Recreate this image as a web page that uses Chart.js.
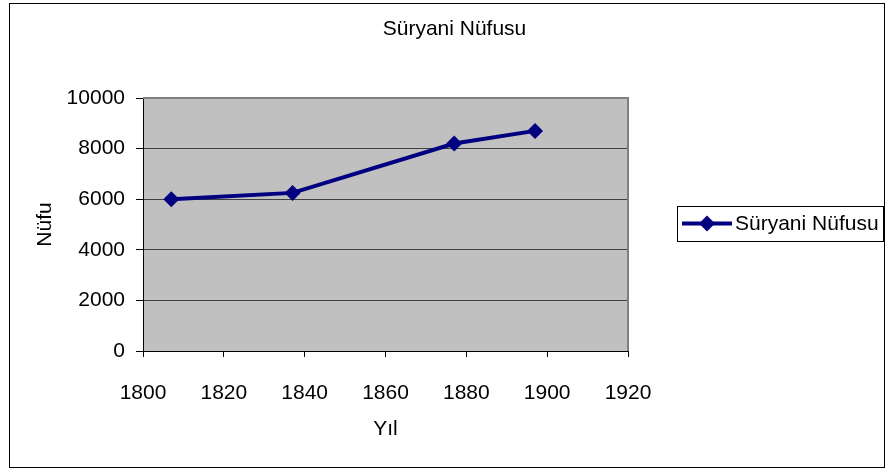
<!DOCTYPE html>
<html>
<head>
<meta charset="utf-8">
<script src="https://cdn.jsdelivr.net/npm/chart.js@4/dist/chart.umd.min.js"></script>
<style>
  html, body { margin: 0; padding: 0; background: #fff; }
  #wrap { width: 889px; height: 470px; }
</style>
</head>
<body>
<div id="wrap"><canvas id="chart" width="889" height="470"></canvas></div>
<script>
// data
const years = [1807, 1837, 1877, 1897];
const population = [6000, 6250, 8200, 8700];
const seriesName = 'Süryani Nüfusu';
const chartTitle = 'Süryani Nüfusu';
const xTitle = 'Yıl';
const yTitle = 'Nüfu';

const FONT = '"Liberation Sans", Arial, sans-serif';
const NAVY = '#000080';

// grey plot background + outer frame
const backdrop = {
    id: 'backdrop',
    beforeDraw(chart) {
        const { ctx, chartArea: a } = chart;
        ctx.save();
        ctx.fillStyle = '#fff';
        ctx.fillRect(0, 0, chart.width, chart.height);
        ctx.fillStyle = '#c0c0c0';
        ctx.fillRect(a.left, a.top, a.right - a.left, a.bottom - a.top);
        ctx.strokeStyle = '#000';
        ctx.lineWidth = 1;
        ctx.strokeRect(9.5, 3.5, 875, 464);
        ctx.restore();
    },
    beforeDatasetsDraw(chart) {
        const { ctx, chartArea: a } = chart;
        ctx.save();
        ctx.strokeStyle = '#808080';
        ctx.lineWidth = 2;
        ctx.beginPath();
        ctx.moveTo(a.left, a.top);
        ctx.lineTo(a.right, a.top);
        ctx.lineTo(a.right, a.bottom);
        ctx.stroke();
        ctx.restore();
    }
};

// boxed legend on the right
const boxLegend = {
    id: 'boxLegend',
    afterDraw(chart) {
        const { ctx, chartArea: a } = chart;
        const ds = chart.data.datasets[0];
        const left = a.right + 49, top = 206, w = 206, h = 35;
        const midY = top + h / 2;
        ctx.save();
        ctx.strokeStyle = '#000';
        ctx.lineWidth = 1;
        ctx.strokeRect(left + 0.5, top + 0.5, w, h);
        ctx.strokeStyle = ds.borderColor;
        ctx.lineWidth = ds.borderWidth;
        ctx.beginPath();
        ctx.moveTo(left + 5, midY);
        ctx.lineTo(left + 55, midY);
        ctx.stroke();
        const r = ds.pointRadius;
        ctx.fillStyle = ds.pointBackgroundColor;
        ctx.beginPath();
        ctx.moveTo(left + 30, midY - r);
        ctx.lineTo(left + 30 + r, midY);
        ctx.lineTo(left + 30, midY + r);
        ctx.lineTo(left + 30 - r, midY);
        ctx.closePath();
        ctx.fill();
        ctx.fillStyle = '#000';
        ctx.font = '21px ' + FONT;
        ctx.textBaseline = 'middle';
        ctx.fillText(ds.label, left + 58, midY + 1);
        ctx.restore();
    }
};

new Chart(document.getElementById('chart'), {
    type: 'line',
    data: {
        datasets: [{
            label: seriesName,
            data: years.map((y, i) => ({ x: y, y: population[i] })),
            borderColor: NAVY,
            backgroundColor: NAVY,
            borderWidth: 4,
            pointStyle: 'rectRot',
            pointRadius: 8,
            pointBackgroundColor: NAVY,
            pointBorderColor: NAVY,
            pointBorderWidth: 0,
            tension: 0
        }]
    },
    options: {
        responsive: false,
        animation: false,
        events: [],
        layout: { padding: { left: 20, right: 0, top: 0, bottom: 0 } },
        plugins: {
            legend: { display: false },
            tooltip: { enabled: false },
            title: {
                display: true,
                text: chartTitle,
                color: '#000',
                font: { family: FONT, size: 21, weight: 'normal' },
                padding: { top: 16.4, bottom: 56.4 }
            }
        },
        scales: {
            x: {
                type: 'linear',
                min: 1800,
                max: 1920,
                ticks: {
                    stepSize: 20,
                    color: '#000',
                    padding: 24,
                    font: { family: FONT, size: 21 },
                    maxRotation: 0,
                    callback: v => String(v)
                },
                grid: { drawOnChartArea: false, tickLength: 6, tickColor: '#000' },
                border: { color: '#000', width: 1 },
                title: {
                    display: true,
                    text: xTitle,
                    color: '#000',
                    font: { family: FONT, size: 21 },
                    padding: { top: 0, bottom: 28 }
                },
                afterFit(s) { s.height = 119; }
            },
            y: {
                min: 0,
                max: 10000,
                ticks: {
                    stepSize: 2000,
                    color: '#000',
                    padding: 11,
                    font: { family: FONT, size: 21 },
                    callback: v => String(v)
                },
                grid: { color: '#404040', lineWidth: 1, tickLength: 7, tickColor: '#000' },
                border: { color: '#000', width: 1 },
                title: {
                    display: true,
                    text: yTitle,
                    color: '#000',
                    font: { family: FONT, size: 21 },
                    padding: { top: 12.4, bottom: 0 }
                },
                afterFit(s) { s.width = 123; }
            },
            side: {
                position: 'right',
                display: true,
                grid: { display: false },
                border: { display: false },
                ticks: { display: false },
                afterFit(s) { s.width = 261; }
            }
        }
    },
    plugins: [backdrop, boxLegend]
});
</script>
</body>
</html>
